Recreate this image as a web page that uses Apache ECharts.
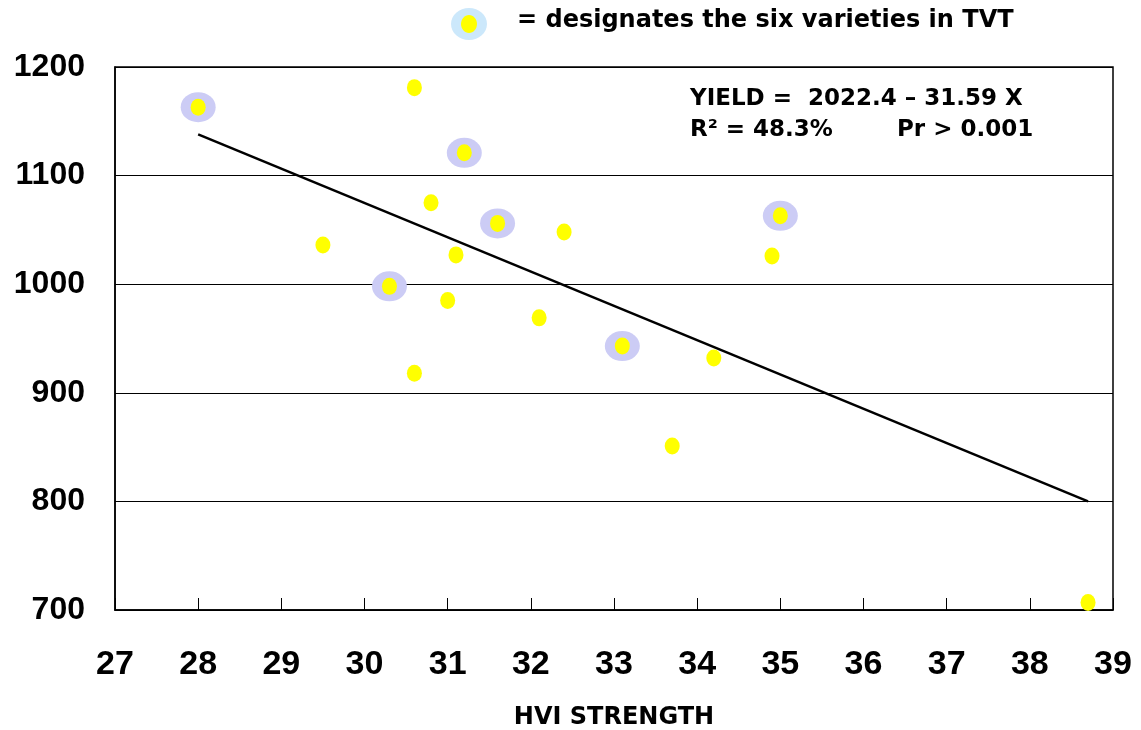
<!DOCTYPE html>
<html>
<head>
<meta charset="utf-8">
<script src="https://cdn.jsdelivr.net/npm/echarts@6/dist/echarts.min.js"></script>
<style>
  html, body { margin: 0; padding: 0; background: #fff; }
  #main { width: 1141px; height: 730px; }
</style>
</head>
<body>
<div id="main"></div>
<script>
// HVI strength vs yield
var strength = [28.0, 30.6, 31.2, 30.8, 31.6, 29.5, 32.4, 31.1, 35.0, 34.9, 30.3, 31.0, 32.1, 30.6, 33.1, 34.2, 33.7, 38.7];
var yieldVals = [1163, 1181, 1121, 1075, 1056, 1036, 1048, 1027, 1063, 1026, 998, 985, 969, 918, 943, 932, 851, 707];
// index of the six TVT varieties
var tvtIdx = [0, 2, 4, 8, 10, 14];
// regression line end points
var lineX = [28, 38.7];
var lineY = [1138, 800];

var points = strength.map(function (x, i) { return [x, yieldVals[i]]; });
var tvtPoints = tvtIdx.map(function (i) { return points[i]; });
var linePoints = lineX.map(function (x, i) { return [x, lineY[i]]; });

var chart = echarts.init(document.getElementById('main'));
var font = 'Liberation Sans, Arial, sans-serif';
var wideFont = 'DejaVu Sans, sans-serif';

var option = {
  animation: false,
  grid: {
    left: 115, right: 28, top: 67, bottom: 120,
    outerBoundsMode: 'none',
    containLabel: false,
    show: true,
    borderColor: '#000',
    borderWidth: 1.5
  },
  xAxis: {
    type: 'value',
    min: 27, max: 39, interval: 1,
    name: 'HVI STRENGTH',
    nameLocation: 'middle',
    nameGap: 96,
    nameTextStyle: { fontFamily: wideFont, fontWeight: 'bold', fontSize: 24, color: '#000' },
    axisLine: { lineStyle: { color: '#000', width: 1.5 } },
    axisTick: { inside: true, length: 12, lineStyle: { color: '#000' } },
    axisLabel: { fontFamily: font, fontWeight: 'bold', fontSize: 34, color: '#000', margin: 38 },
    splitLine: { show: false }
  },
  yAxis: {
    type: 'value',
    min: 700, max: 1200, interval: 100,
    axisLine: { show: true, lineStyle: { color: '#000', width: 1.5 } },
    axisTick: { show: false },
    axisLabel: {
      fontFamily: font, fontWeight: 'bold', fontSize: 32, color: '#000', margin: 30,
      formatter: function (v) { return String(v); }
    },
    splitLine: { lineStyle: { color: '#000', width: 1 } }
  },
  graphic: [
    { type: 'ellipse', shape: { cx: 469, cy: 24, rx: 18, ry: 16 }, style: { fill: '#cce8fb' } },
    { type: 'ellipse', shape: { cx: 469, cy: 24, rx: 8, ry: 9 }, style: { fill: '#ffff00' } },
    { type: 'text', left: 517, top: 9, style: { text: '= designates the six varieties in TVT', font: 'bold 24px ' + wideFont, fill: '#000' } },
    { type: 'text', left: 690, top: 88, style: { text: 'YIELD =  2022.4 \u2013 31.59 X', font: 'bold 23px ' + wideFont, fill: '#000' } },
    { type: 'text', left: 690, top: 119, style: { text: 'R\u00b2 = 48.3%        Pr > 0.001', font: 'bold 23px ' + wideFont, fill: '#000' } }
  ],
  series: [
    {
      type: 'scatter',
      data: tvtPoints,
      symbol: 'circle',
      symbolSize: [35, 30],
      itemStyle: { color: '#ccccf5', opacity: 1 },
      z: 2
    },
    {
      type: 'line',
      data: linePoints,
      showSymbol: false,
      symbol: 'none',
      lineStyle: { color: '#000', width: 2.5 },
      z: 3
    },
    {
      type: 'scatter',
      data: points,
      symbol: 'circle',
      symbolSize: [15, 17],
      itemStyle: { color: '#ffff00', opacity: 1 },
      z: 4
    }
  ]
};
chart.setOption(option);
</script>
</body>
</html>
